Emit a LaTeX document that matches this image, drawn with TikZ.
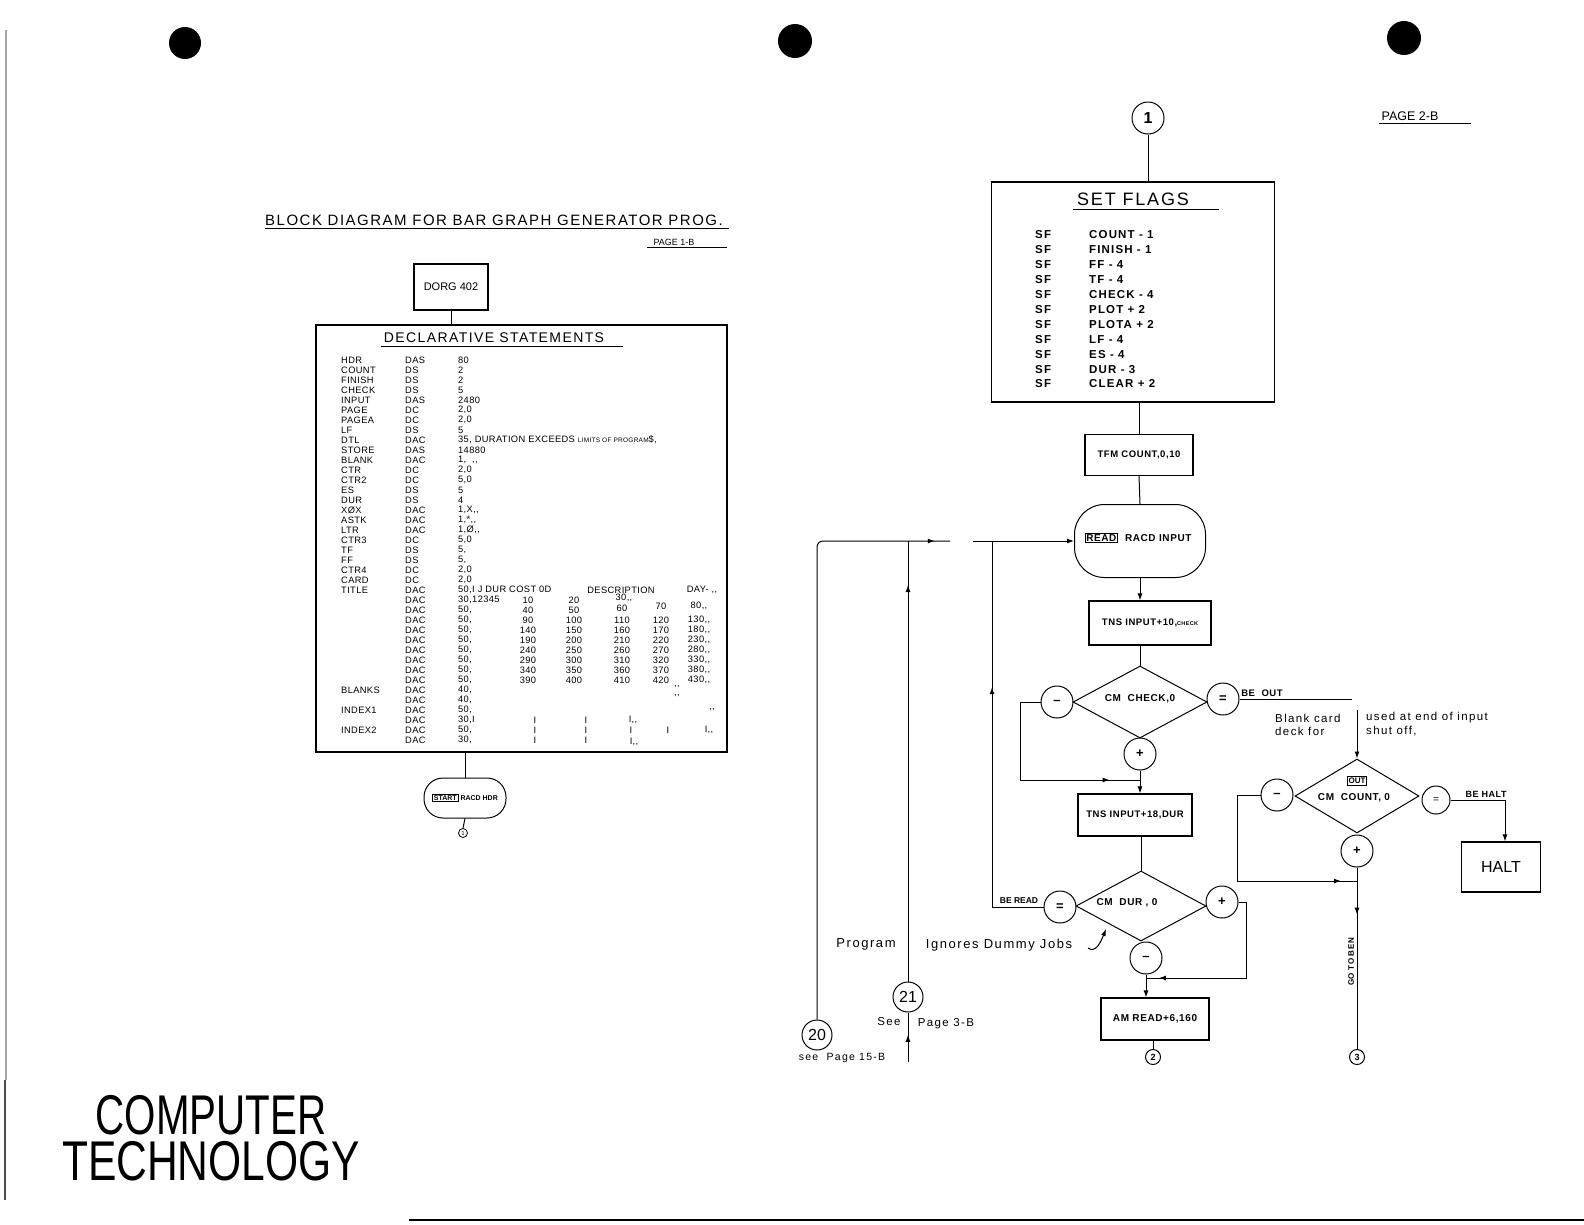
\documentclass[tikz,border=0pt]{standalone}
\usepackage{graphicx}
\usepackage{fontspec}
\setmainfont{Liberation Sans}
\newfontfamily\widefont[LetterSpace=10]{Liberation Sans}
\newfontfamily\hwfont[LetterSpace=12]{Liberation Sans}
\newfontfamily\fcfont[LetterSpace=6]{Liberation Sans}
\newfontfamily\ttfont[LetterSpace=4]{Liberation Sans}
\usetikzlibrary{arrows.meta,shapes.geometric,decorations.markings}
\setlength{\fboxsep}{1pt}
\setlength{\fboxrule}{0.8pt}
\newcommand\drow[4]{%
  \node[tt] (dl#1) at (341,{360+10*#1}) {#2};
  \node[tt] (do#1) at (405,{360+10*#1}) {#3};
  \node[tt] (dv#1) at (458,{360+10*#1}) {#4};}
\newcommand\dval[4]{\node[tt,anchor=center] (#1) at (#2,{360+10*#3}) {#4};}
\begin{document}
\begin{tikzpicture}[x=1pt,y=-1pt,
  ln/.style={line width=1pt},
  arr/.style={line width=1pt,-{Latex[length=7pt,width=5pt]}},
  box/.style={draw,line width=1.1pt,inner sep=0pt},
  cir/.style={draw,circle,line width=1pt,minimum size=32pt,inner sep=0pt,font=\fontsize{13}{13}\selectfont\bfseries},
  numcir/.style={draw,circle,line width=1pt,minimum size=30pt,inner sep=0pt,font=\fontsize{16}{16}\selectfont},
  scir/.style={draw,circle,line width=1pt,minimum size=15pt,inner sep=0pt,font=\fontsize{9}{9}\selectfont\bfseries},
  dia/.style={draw,diamond,line width=1pt,inner sep=0pt},
  fc/.style={font=\fcfont\fontsize{9.5}{10}\selectfont\bfseries,inner sep=0pt},
  tt/.style={anchor=west,inner sep=0pt,font=\ttfont\fontsize{9.3}{9.5}\selectfont},
  sft/.style={anchor=west,inner sep=0pt,font=\widefont\fontsize{11.5}{11.5}\selectfont\bfseries},
  hw/.style={inner sep=0pt,font=\hwfont\fontsize{13}{13}\selectfont},
  big/.style={inner sep=0pt,align=center,font=\fontsize{56}{46}\selectfont},
  midarr/.style={postaction={decorate},decoration={markings,mark=at position #1 with {\arrow{Latex[length=7pt,width=5pt]}}}},
]
\useasboundingbox (0,0) rectangle (1584,1224);
\fill[white] (0,0) rectangle (1584,1224);

% punch holes and scan edges
\fill (185,43) circle (16pt);
\fill (795,41) circle (17pt);
\fill (1404,38) circle (17pt);
\draw[black!35,line width=1.2pt] (6,30) -- (6,1080);
\draw[black!70,line width=2.5pt] (5,1080) -- (5,1200);
\draw[line width=1.5pt] (409,1220) -- (1584,1220);

% ===== left page =====
\node[inner sep=0pt,font=\widefont\fontsize{15}{15}\selectfont] (title) at (494,220) {BLOCK DIAGRAM FOR BAR GRAPH GENERATOR PROG.};
\draw[ln] (title.south west) ++(0,3) -- ++(464,0);
\node[inner sep=0pt,font=\fontsize{9}{9}\selectfont] (pg1) at (674,242) {PAGE 1-B};
\draw[ln] (pg1.south west) ++(-6,2) -- ++(80,0);

\node[box,minimum width=74pt,minimum height=46pt,font=\fontsize{11}{11}\selectfont] (dorg) at (451,287) {DORG 402};
\draw[box] (316,325) rectangle (727,752);
\coordinate (dtop) at (451,325);
\draw[ln] (dorg.south) -- (dtop);
\node[inner sep=0pt,font=\widefont\fontsize{14}{14}\selectfont] (decl) at (494,338) {DECLARATIVE STATEMENTS};
\draw[ln] (decl.south west) ++(-3,3) -- ++(242,0);

\drow{0}{HDR}{DAS}{80}
\drow{1}{COUNT}{DS}{2}
\drow{2}{FINISH}{DS}{2}
\drow{3}{CHECK}{DS}{5}
\drow{4}{INPUT}{DAS}{2480}
\drow{5}{PAGE}{DC}{2,0}
\drow{6}{PAGEA}{DC}{2,0}
\drow{7}{LF}{DS}{5}
\drow{8}{DTL}{DAC}{35, DURATION EXCEEDS {\fontsize{6.5}{7}\selectfont LIMITS OF PROGRAM}\$,}
\drow{9}{STORE}{DAS}{14880}
\drow{10}{BLANK}{DAC}{1,\ \ ,,}
\drow{11}{CTR}{DC}{2,0}
\drow{12}{CTR2}{DC}{5,0}
\drow{13}{ES}{DS}{5}
\drow{14}{DUR}{DS}{4}
\drow{15}{XØX}{DAC}{1,X,,}
\drow{16}{ASTK}{DAC}{1,*,,}
\drow{17}{LTR}{DAC}{1,Ø,,}
\drow{18}{CTR3}{DC}{5,0}
\drow{19}{TF}{DS}{5,}
\drow{20}{FF}{DS}{5,}
\drow{21}{CTR4}{DC}{2,0}
\drow{22}{CARD}{DC}{2,0}
\drow{23}{TITLE}{DAC}{50,I J DUR COST 0D}
\dval{t23a}{621}{23}{DESCRIPTION}
\dval{t23b}{702}{23}{DAY- ,,}
\drow{24}{}{DAC}{30,12345}
\dval{v24a}{528}{24}{10}
\dval{v24b}{574}{24}{20}
\dval{v24c}{624}{23.75}{30,,}
\drow{25}{}{DAC}{50,}
\dval{v25a}{528}{25}{40}
\dval{v25b}{574}{25}{50}
\dval{v25c}{622}{24.8}{60}
\dval{v25d}{661}{24.6}{70}
\dval{v25e}{699}{24.6}{80,,}
\foreach \k in {0,...,6}{
  \pgfmathtruncatemacro\r{26+\k}
  \pgfmathtruncatemacro\va{90+50*\k}
  \pgfmathtruncatemacro\vb{100+50*\k}
  \pgfmathtruncatemacro\vc{110+50*\k}
  \pgfmathtruncatemacro\vd{120+50*\k}
  \pgfmathtruncatemacro\ve{130+50*\k}
  \drow{\r}{}{DAC}{50,}
  \dval{va\r}{528}{\r}{\va}
  \dval{vb\r}{574}{\r}{\vb}
  \dval{vc\r}{622}{\r}{\vc}
  \dval{vd\r}{661}{\r}{\vd}
  \dval{ve\r}{699}{\r}{\ve,,}
}
\drow{33}{BLANKS}{DAC}{40,}
\dval{v33}{677}{32.7}{,,}
\drow{34}{}{DAC}{40,}
\dval{v34}{677}{33.6}{,,}
\drow{35}{INDEX1}{DAC}{50,}
\dval{v35}{712}{35}{,,}
\drow{36}{}{DAC}{30,I}
\dval{v36a}{535}{36}{I}
\dval{v36b}{586}{36}{I}
\dval{v36c}{633}{36}{I,,}
\drow{37}{INDEX2}{DAC}{50,}
\dval{v37a}{535}{37}{I}
\dval{v37b}{586}{37}{I}
\dval{v37c}{631}{37}{I}
\dval{v37d}{668}{37}{I}
\dval{v37e}{709}{37}{I,,}
\drow{38}{}{DAC}{30,}
\dval{v38a}{535}{38}{I}
\dval{v38b}{586}{38}{I}
\dval{v38c}{634}{38.2}{I,,}

\node[draw,line width=1pt,rounded corners=19pt,minimum width=82pt,minimum height=40pt,font=\fontsize{7}{7}\selectfont\bfseries] (start) at (465,798) {\fbox{START}\ RACD HDR};
\coordinate (dbot) at (465,752);
\draw[ln] (dbot) -- (start.north);
\node[draw,circle,line width=0.8pt,minimum size=9pt,inner sep=0pt,font=\fontsize{6}{6}\selectfont] (s1) at (463,833) {1};
\draw[ln] (start.south) -- (s1.north);

\node[big] (ct) at (211,1138) {\scalebox{0.72}[1]{COMPUTER}\\\scalebox{0.76}[1]{TECHNOLOGY}};

% ===== right page =====
\node[inner sep=0pt,font=\fontsize{12.5}{13}\selectfont] (pg2) at (1410,116) {PAGE 2-B};
\draw[ln] (pg2.south west) ++(-2,3) -- ++(92,0);

\node[numcir,minimum size=32pt] (c1) at (1148,118) {\bfseries 1};
\node[box,minimum width=283pt,minimum height=220pt] (sf) at (1133,292) {};
\draw[ln] (c1.south) -- (c1.south |- sf.north);
\node[inner sep=0pt,font=\widefont\fontsize{18}{18}\selectfont] (sfh) at (1133,199) {SET FLAGS};
\draw[ln] (sfh.south west) ++(-4,4) -- ++(146,0);
\foreach \s [count=\i from 0] in {COUNT - 1,FINISH - 1,FF - 4,TF - 4,CHECK - 4,PLOT + 2,PLOTA + 2,LF - 4,ES - 4,DUR - 3,CLEAR + 2}{
  \node[sft] (sfa\i) at (1035,{235+14.9*\i}) {SF};
  \node[sft] (sfb\i) at (1089,{235+14.9*\i}) {\s};
}

\node[box,minimum width=108pt,minimum height=41pt] (tfm) at (1139,455) {};
\node[fc] (tfmt) at (tfm) {TFM COUNT,0,10};
\draw[ln] (tfm.north |- sf.south) -- (tfm.north);

\node[draw,line width=1pt,rounded corners=30pt,minimum width=131pt,minimum height=73pt] (read) at (1140,541) {};
\node[fc,font=\fcfont\fontsize{10}{10}\selectfont\bfseries] (readt) at (1138,538) {\fbox{READ}\ \ RACD INPUT};
\draw[ln] (tfm.south) -- (read.north);

\node[box,minimum width=122pt,minimum height=44pt] (tns1) at (1150,623) {};
\node[fc] (tns1t) at (tns1) {TNS INPUT+10,{\fontsize{5.5}{6}\selectfont CHECK}};
\draw[arr] (read.south) -- (read.south |- tns1.north);

\node[dia,minimum width=134pt,minimum height=72pt] (d1) at (1140,702) {};
\node[fc,font=\fcfont\fontsize{10}{10}\selectfont\bfseries] (d1t) at (1140,699) {CM\ \ CHECK,0};
\draw[ln] (tns1.south -| d1.north) -- (d1.north);
\node[cir] (m1) at (1057,702) {--};
\node[cir] (e1) at (1223,699) {=};
\node[cir] (p1) at (1140,754) {+};
\coordinate (j1) at (1140,780);
\draw[ln,midarr=0.86] (m1.west) -- ++(-20,0) |- (j1);

\node[inner sep=0pt,font=\fcfont\fontsize{9.5}{9.5}\selectfont\bfseries] (beout) at (1262,693) {BE\ \ OUT};
\coordinate (beoe) at (1352,699);
\draw[ln] (e1.east) -- (beoe);

\node[box,minimum width=114pt,minimum height=42pt] (tns2) at (1135,815) {};
\node[fc] (tns2t) at (tns2) {TNS INPUT+18,DUR};
\draw[arr] (p1.south) -- (p1.south |- tns2.north);

\node[dia,minimum width=130pt,minimum height=70pt] (d2) at (1141,906) {};
\node[fc,font=\fcfont\fontsize{10}{10}\selectfont\bfseries] (d2t) at (1127,903) {CM\ \ DUR , 0};
\draw[ln] (tns2.south -| d2.north) -- (d2.north);
\node[cir] (e2) at (1060,907) {=};
\node[cir] (p2) at (1222,902) {+};
\node[cir] (m2) at (1146,958) {--};
\node[inner sep=0pt,font=\fontsize{8.5}{8.5}\selectfont\bfseries] (beread) at (1019,901) {BE READ};
\coordinate (rdc) at (992,541);
\draw[ln,midarr=0.65] (e2.west) -| (rdc);
\coordinate (lp2) at (973,541);
\draw[arr] (lp2) -- (read.west);
\coordinate (j2) at (1146,978);
\draw[ln,midarr=0.93] (p2.east) -- ++(8,0) |- (j2);

\node[box,minimum width=108pt,minimum height=42pt] (am) at (1155,1019) {};
\node[fc,font=\fcfont\fontsize{10}{10}\selectfont\bfseries] (amt) at (am) {AM READ+6,160};
\draw[arr] (m2.south) -- (m2.south |- am.north);
\node[scir] (c2) at (1153,1057) {2};
\draw[ln] (am.south -| c2.north) -- (c2.north);

% left loop lines
\node[numcir] (c20) at (817,1035) {20};
\node[numcir] (c21) at (908,997) {21};
\coordinate (lp1) at (950,541);
\draw[ln,rounded corners=6pt,midarr=0.975] (c20.north) |- (lp1);
\draw[ln,midarr=0.9] (c21.north) -- (c21.north |- lp1);
\coordinate (b21) at (908,1062);
\draw[ln,midarr=0.55] (b21) -- (c21.south);
\node[hw] (prog) at (866,944) {Program};
\node[hw] (ign) at (999,945) {Ignores Dummy Jobs};
\coordinate (ca1) at (1088,948);
\coordinate (ca2) at (1106,929);
\draw[arr] (ca1) .. controls (1095,953) and (1100,944) .. (ca2);
\node[hw,font=\hwfont\fontsize{11.5}{11.5}\selectfont] (see21) at (889,1022) {See};
\node[hw,font=\hwfont\fontsize{11.5}{11.5}\selectfont] (pg3) at (946,1024) {Page 3-B};
\node[hw,font=\hwfont\fontsize{10.5}{10.5}\selectfont] (see20) at (842,1058) {see\ \ Page 15-B};

% right column
\node[hw,anchor=west,font=\hwfont\fontsize{11.5}{11.5}\selectfont] (bl1) at (1275,718) {Blank card};
\node[hw,anchor=west,font=\hwfont\fontsize{11.5}{11.5}\selectfont] (bl2) at (1275,731) {deck for};
\node[hw,anchor=west,font=\hwfont\fontsize{11.5}{11.5}\selectfont] (bl3) at (1366,718) {used at end of input};
\node[hw,anchor=west,font=\hwfont\fontsize{11.5}{11.5}\selectfont] (bl4) at (1366,731) {shut off,};
\coordinate (bo1) at (1357,710);
\node[dia,minimum width=124pt,minimum height=74pt] (d3) at (1357,796) {};
\draw[arr] (bo1) -- (d3.north);
\node[inner sep=0pt,font=\fontsize{8}{8}\selectfont\bfseries] (outt) at (1357,781) {\fbox{OUT}};
\node[fc,font=\fcfont\fontsize{10}{10}\selectfont\bfseries] (d3t) at (1354,798) {CM\ \ COUNT, 0};
\node[cir] (m3) at (1277,795) {--};
\node[cir,minimum size=28pt,font=\fontsize{10}{10}\selectfont] (e3) at (1436,800) {=};
\node[cir] (p3) at (1357,851) {+};
\coordinate (j3) at (1357,881);
\draw[ln,midarr=0.93] (m3.west) -- (1237,795) |- (j3);
\node[inner sep=0pt,font=\fcfont\fontsize{9}{9}\selectfont\bfseries] (behalt) at (1486,794) {BE HALT};
\node[box,minimum width=79pt,minimum height=50pt,font=\fontsize{16}{16}\selectfont] (halt) at (1501,867) {HALT};
\draw[arr] (e3.east) -| ([xshift=4pt]halt.north);
\node[scir] (c3) at (1357,1057) {3};
\draw[ln,midarr=0.26] (p3.south) -- (c3.north);
\node[fc,rotate=90,font=\fcfont\fontsize{8}{8}\selectfont\bfseries] (gtb) at (1351,962) {GO TO BEN};
\end{tikzpicture}
\end{document}
